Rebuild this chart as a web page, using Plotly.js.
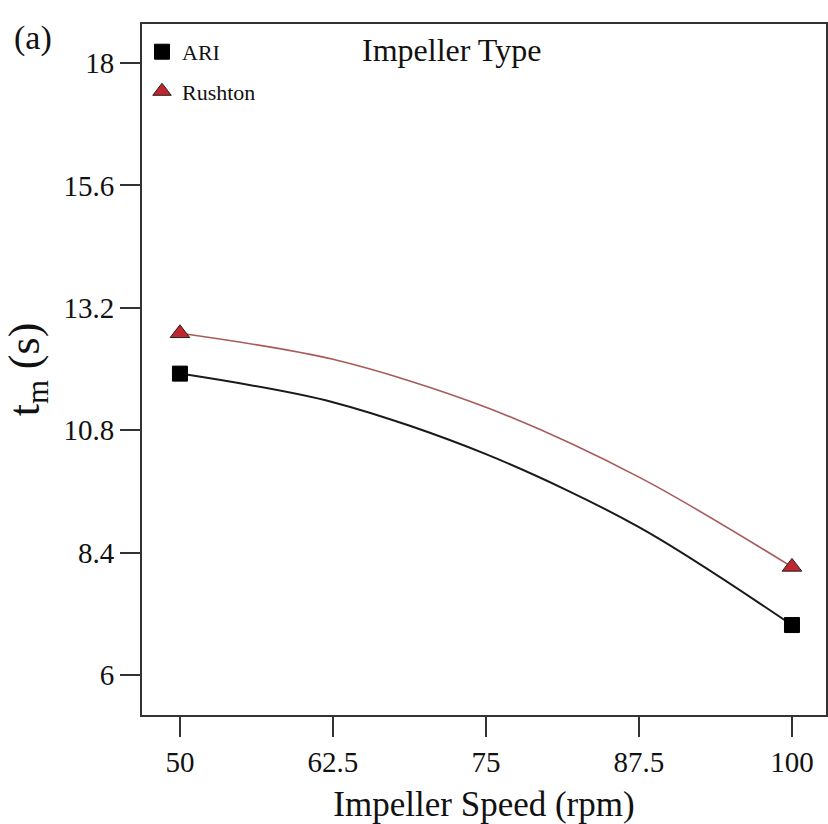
<!DOCTYPE html>
<html>
<head>
<meta charset="utf-8">
<script src="https://cdn.plot.ly/plotly-3.0.1.min.js"></script>
<style>
html, body { margin: 0; padding: 0; background: #fff; }
#chart { width: 828px; height: 824px; }
</style>
</head>
<body>
<div id="chart"></div>
<script>
// Impeller speed (rpm) at which the fitted curves were read
const speed = [50, 62.5, 75, 87.5, 100];
// Mixing time t_m (s) for each impeller type
const ariTm = [11.91, 11.35, 10.33, 8.90, 6.98];
const rushtonTm = [12.70, 12.19, 11.25, 9.88, 8.12];
const seriesNames = ["ARI", "Rushton"];
const xTicks = [50, 62.5, 75, 87.5, 100];
const xTickText = ["50", "62.5", "75", "87.5", "100"];
const yTicks = [6, 8.4, 10.8, 13.2, 15.6, 18];
const yTickText = ["6", "8.4", "10.8", "13.2", "15.6", "18"];

const serif = "Liberation Serif";
const ends = arr => [arr[0], arr[arr.length - 1]];

const traces = [
  {
    x: speed, y: ariTm, type: "scatter", mode: "lines",
    line: { color: "#1a1a1a", width: 2, shape: "spline", smoothing: 0.9 },
    showlegend: false, hoverinfo: "skip"
  },
  {
    x: speed, y: rushtonTm, type: "scatter", mode: "lines",
    line: { color: "#a85a5a", width: 1.6, shape: "spline", smoothing: 0.9 },
    showlegend: false, hoverinfo: "skip"
  },
  {
    x: ends(speed), y: ends(ariTm), type: "scatter", mode: "markers",
    name: seriesNames[0], legendgroup: "a",
    marker: { symbol: "square", size: 15, color: "#000000", line: { color: "#000", width: 1 } }
  },
  {
    x: ends(speed), y: ends(rushtonTm), type: "scatter", mode: "markers",
    name: seriesNames[1], legendgroup: "b",
    marker: { symbol: "triangle-up", size: 17, color: "#c0262d", line: { color: "#222", width: 1 } }
  }
];

const layout = {
  width: 828, height: 824,
  margin: { l: 142, r: 2, t: 24, b: 109 },
  paper_bgcolor: "#fff", plot_bgcolor: "#fff",
  font: { family: serif, color: "#111" },
  showlegend: true,
  legend: {
    x: 0, y: 0.99, xanchor: "left", yanchor: "top",
    bgcolor: "rgba(0,0,0,0)", borderwidth: 0,
    font: { family: serif, size: 22, color: "#111" },
    traceorder: "grouped", tracegroupgap: 8, itemsizing: "trace"
  },
  xaxis: {
    range: [46.9, 102.78], tickmode: "array", tickvals: xTicks, ticktext: xTickText,
    ticks: "outside", ticklen: 20, tickwidth: 2, tickcolor: "#333",
    showline: true, linecolor: "#333", linewidth: 2, mirror: true,
    showgrid: false, zeroline: false,
    tickfont: { family: serif, size: 29, color: "#111" },
    title: { text: "Impeller Speed (rpm)", font: { family: serif, size: 35, color: "#111" }, standoff: 22 }
  },
  yaxis: {
    range: [5.216, 18.765], tickmode: "array", tickvals: yTicks, ticktext: yTickText,
    ticks: "outside", ticklen: 20, tickwidth: 2, tickcolor: "#333",
    showline: true, linecolor: "#333", linewidth: 2, mirror: true,
    showgrid: false, zeroline: false,
    tickfont: { family: serif, size: 29, color: "#111" },
    title: { text: "t<sub>m</sub> (s)", font: { family: serif, size: 44, color: "#111" }, standoff: 14 }
  },
  annotations: [
    {
      text: "Impeller Type", xref: "paper", yref: "paper", x: 0.452, y: 0.962,
      xanchor: "center", yanchor: "middle", showarrow: false,
      font: { family: serif, size: 32, color: "#111" }
    },
    {
      text: "(a)", xref: "paper", yref: "paper", x: -0.19, y: 0.98,
      xanchor: "left", yanchor: "middle", showarrow: false,
      font: { family: serif, size: 34, color: "#111" }
    }
  ]
};

Plotly.newPlot("chart", traces, layout, { displayModeBar: false, staticPlot: true });
</script>
</body>
</html>
